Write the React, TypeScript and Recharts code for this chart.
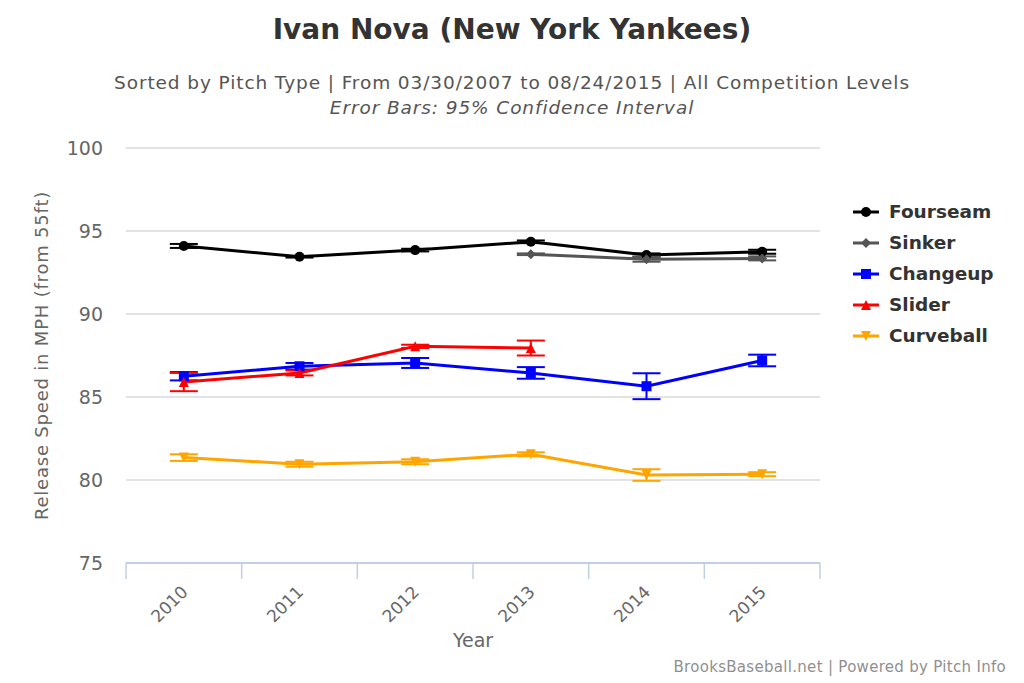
import React from "react";
import {
  LineChart,
  Line,
  XAxis,
  YAxis,
  CartesianGrid,
  ErrorBar,
  Legend,
} from "recharts";

const years = ["2010", "2011", "2012", "2013", "2014", "2015"];

const fourseam = [94.1, 93.45, 93.85, 94.35, 93.55, 93.75];
const fourseamErr = [0.12, 0.05, 0.08, 0.08, 0.1, 0.12];
const sinker = [null, null, null, 93.6, 93.3, 93.35];
const sinkerErr = [null, null, null, 0.05, 0.15, 0.12];
const changeup = [86.25, 86.85, 87.05, 86.45, 85.65, 87.2];
const changeupErr = [0.25, 0.2, 0.3, 0.35, 0.78, 0.35];
const slider = [85.9, 86.45, 88.05, 87.95, null, null];
const sliderErr = [0.55, 0.15, 0.1, 0.45, null, null];
const curveball = [81.35, 80.95, 81.1, 81.55, 80.3, 80.35];
const curveballErr = [0.2, 0.15, 0.15, 0.12, 0.35, 0.12];

const yTicks = [75, 80, 85, 90, 95, 100];

const FONT = "'DejaVu Sans', 'Open Sans', sans-serif";

const data = years.map((year, i) => ({
  year,
  fourseam: fourseam[i],
  fourseamErr: fourseamErr[i],
  sinker: sinker[i],
  sinkerErr: sinkerErr[i],
  changeup: changeup[i],
  changeupErr: changeupErr[i],
  slider: slider[i],
  sliderErr: sliderErr[i],
  curveball: curveball[i],
  curveballErr: curveballErr[i],
}));

type Shape = "circle" | "diamond" | "square" | "triangle" | "triangle-down";

const series: { key: string; name: string; color: string; shape: Shape }[] = [
  { key: "fourseam", name: "Fourseam", color: "#000000", shape: "circle" },
  { key: "sinker", name: "Sinker", color: "#555555", shape: "diamond" },
  { key: "changeup", name: "Changeup", color: "#0000ff", shape: "square" },
  { key: "slider", name: "Slider", color: "#ff0000", shape: "triangle" },
  { key: "curveball", name: "Curveball", color: "#ffa500", shape: "triangle-down" },
];

const marker = (shape: Shape, cx: number, cy: number, color: string, s = 5) => {
  switch (shape) {
    case "circle":
      return <circle cx={cx} cy={cy} r={s} fill={color} />;
    case "diamond":
      return (
        <path
          d={`M${cx},${cy - s} L${cx + s},${cy} L${cx},${cy + s} L${cx - s},${cy} Z`}
          fill={color}
        />
      );
    case "square":
      return <rect x={cx - s} y={cy - s} width={s * 2} height={s * 2} fill={color} />;
    case "triangle":
      return (
        <path
          d={`M${cx},${cy - s} L${cx + s},${cy + s} L${cx - s},${cy + s} Z`}
          fill={color}
        />
      );
    default:
      return (
        <path
          d={`M${cx - s},${cy - s} L${cx + s},${cy - s} L${cx},${cy + s} Z`}
          fill={color}
        />
      );
  }
};

const makeDot = (shape: Shape, color: string) => (props: any) => {
  const { cx, cy, value, index } = props;
  if (value === null || value === undefined || cx == null || cy == null)
    return <g key={index} />;
  return <g key={index}>{marker(shape, cx, cy, color)}</g>;
};

const YearTick = (props: any) => {
  const { x, y, payload, index, visibleTicksCount } = props;
  const half = payload && payload.offset ? payload.offset : 0;
  return (
    <g>
      {half > 0 && (
        <line x1={x - half} y1={y - 8} x2={x - half} y2={y + 8} stroke="#c0d0e0" strokeWidth={1.5} />
      )}
      {half > 0 && index === visibleTicksCount - 1 && (
        <line x1={x + half} y1={y - 8} x2={x + half} y2={y + 8} stroke="#c0d0e0" strokeWidth={1.5} />
      )}
      <text
        x={x + 5}
        y={y + 22}
        transform={`rotate(-45 ${x + 5} ${y + 22})`}
        textAnchor="end"
        fill="#666666"
        fontSize={17}
        fontFamily={FONT}
      >
        {payload.value}
      </text>
    </g>
  );
};

const LegendContent = () => (
  <div style={{ fontFamily: FONT }}>
    {series.map((s) => (
      <div
        key={s.key}
        style={{ display: "flex", alignItems: "center", height: 31 }}
      >
        <svg width={28} height={14} style={{ marginRight: 8 }}>
          <line x1={0} y1={7} x2={26} y2={7} stroke={s.color} strokeWidth={3} />
          {marker(s.shape, 13, 7, s.color, 5)}
        </svg>
        <span style={{ fontSize: 18.5, fontWeight: 700, color: "#333333" }}>
          {s.name}
        </span>
      </div>
    ))}
  </div>
);

export default function App() {
  return (
    <div
      style={{
        position: "absolute",
        left: 0,
        top: 0,
        width: 1024,
        height: 683,
        background: "#ffffff",
        fontFamily: FONT,
      }}
    >
      <div
        style={{
          position: "absolute",
          top: 13,
          width: 1024,
          textAlign: "center",
          fontSize: 28,
          fontWeight: 700,
          color: "#333333",
        }}
      >
        Ivan Nova (New York Yankees)
      </div>
      <div
        style={{
          position: "absolute",
          top: 70,
          width: 1024,
          textAlign: "center",
          fontSize: 18.5,
          letterSpacing: 0.9,
          color: "#555555",
          lineHeight: "25px",
        }}
      >
        <div>
          Sorted by Pitch Type | From 03/30/2007 to 08/24/2015 | All Competition Levels
        </div>
        <div style={{ fontStyle: "italic" }}>Error Bars: 95% Confidence Interval</div>
      </div>
      <LineChart
        width={1024}
        height={683}
        data={data}
        margin={{ top: 148, right: 204, left: 0, bottom: 0 }}
        style={{ position: "absolute", left: 0, top: 0 }}
      >
        <CartesianGrid horizontal vertical={false} stroke="#d8d8d8" strokeWidth={1.5} />
        <XAxis
          dataKey="year"
          scale="band"
          height={120}
          axisLine={{ stroke: "#c0d0e0", strokeWidth: 2 }}
          tickLine={false}
          tick={<YearTick />}
          interval={0}
          label={{
            value: "Year",
            position: "insideBottom",
            offset: 36,
            fill: "#666666",
            fontSize: 19,
            fontFamily: FONT,
          }}
        />
        <YAxis
          type="number"
          domain={[75, 100]}
          ticks={yTicks}
          width={126}
          axisLine={false}
          tickLine={false}
          tickSize={0}
          tickMargin={23}
          tick={{ fill: "#666666", fontSize: 19, fontFamily: FONT }}
          label={{
            value: "Release Speed in MPH (from 55ft)",
            angle: -90,
            position: "insideLeft",
            offset: 42,
            fill: "#666666",
            fontSize: 18,
            fontFamily: FONT,
            style: { textAnchor: "middle", letterSpacing: 0.8 },
          }}
        />
        <Legend
          layout="horizontal"
          verticalAlign="middle"
          align="center"
          content={<LegendContent />}
          wrapperStyle={{ position: "absolute", left: 853, top: 196, width: 170 }}
        />
        {series.map((s) => (
          <Line
            key={s.key}
            dataKey={s.key}
            name={s.name}
            stroke={s.color}
            strokeWidth={3}
            dot={makeDot(s.shape, s.color)}
            activeDot={false}
            isAnimationActive={false}
          >
            <ErrorBar
              dataKey={`${s.key}Err`}
              direction="y"
              width={14}
              stroke={s.color}
              strokeWidth={2}
              isAnimationActive={false}
            />
          </Line>
        ))}
      </LineChart>
      <div
        style={{
          position: "absolute",
          right: 18,
          top: 658,
          fontSize: 15,
          letterSpacing: 0.3,
          color: "#909090",
        }}
      >
        BrooksBaseball.net | Powered by Pitch Info
      </div>
    </div>
  );
}
